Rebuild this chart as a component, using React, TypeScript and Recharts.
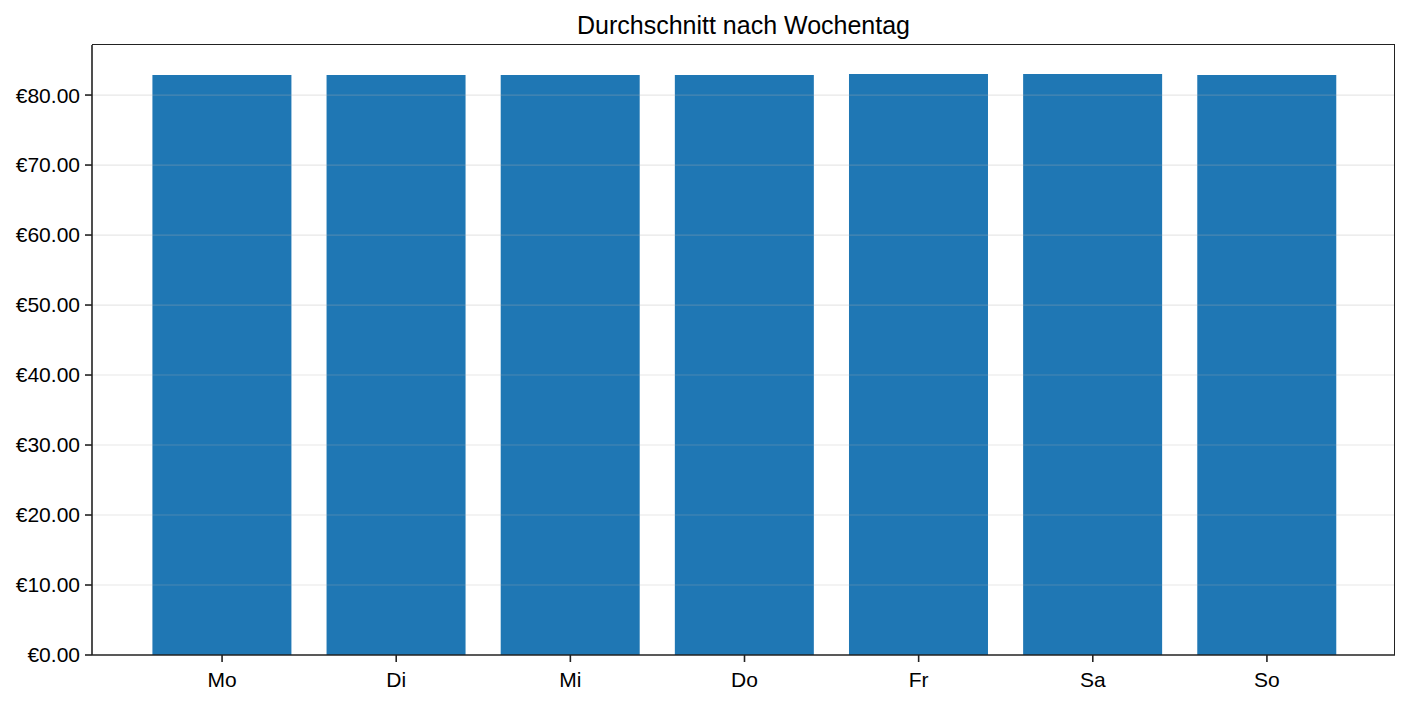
import { Bar, BarChart, ReferenceLine, XAxis, YAxis } from "recharts";

const days = ["Mo", "Di", "Mi", "Do", "Fr", "Sa", "So"];
const averages = [82.86, 82.86, 82.86, 82.86, 83.0, 83.0, 82.86];
const yTicks = [0, 10, 20, 30, 40, 50, 60, 70, 80];

const title = "Durchschnitt nach Wochentag";
const FONT = "'Liberation Sans', Arial, sans-serif";
const INK = "#222222";

const rows = days.map((day, i) => ({ day, avg: averages[i] }));

const euro = (v: number) => `€${v.toFixed(2)}`;

export default function App() {
  return (
    <div style={{ position: "absolute", left: 0, top: 0, width: 1410, height: 704, background: "#fff", fontFamily: FONT }}>
      <div
        style={{
          position: "absolute",
          top: 11,
          left: 92,
          width: 1303,
          textAlign: "center",
          fontSize: 25,
          color: "#000",
        }}
      >
        {title}
      </div>
      <BarChart
        width={1410}
        height={704}
        data={rows}
        margin={{ top: 45, right: 15, bottom: 0, left: 0 }}
        barCategoryGap="10%"
      >
        <XAxis
          dataKey="day"
          padding={{ left: 43, right: 41 }}
          height={49}
          axisLine={{ stroke: INK, strokeWidth: 1.6 }}
          tickLine={{ stroke: INK, strokeWidth: 1.6 }}
          tickSize={7}
          tickMargin={10}
          tick={{ fill: "#000", fontSize: 21, fontFamily: FONT }}
          interval={0}
        />
        <YAxis
          width={92}
          domain={[0, 87.15]}
          ticks={yTicks}
          tickFormatter={euro}
          axisLine={{ stroke: INK, strokeWidth: 1.6 }}
          tickLine={{ stroke: INK, strokeWidth: 1.6 }}
          tickSize={7}
          tickMargin={5}
          tick={{ fill: "#000", fontSize: 21, fontFamily: FONT }}
          allowDataOverflow
        />
        <Bar dataKey="avg" fill="#1f77b4" isAnimationActive={false} />
        {yTicks.slice(1).map((t) => (
          <ReferenceLine key={t} y={t} stroke="#b0b0b0" strokeOpacity={0.3} strokeWidth={1.2} />
        ))}
      </BarChart>
      {/* top and right spines of the axes box */}
      <div
        style={{
          position: "absolute",
          left: 92,
          top: 44,
          width: 1303,
          height: 611,
          borderTop: `1.6px solid ${INK}`,
          borderRight: `1.6px solid ${INK}`,
          boxSizing: "border-box",
          pointerEvents: "none",
        }}
      />
    </div>
  );
}
